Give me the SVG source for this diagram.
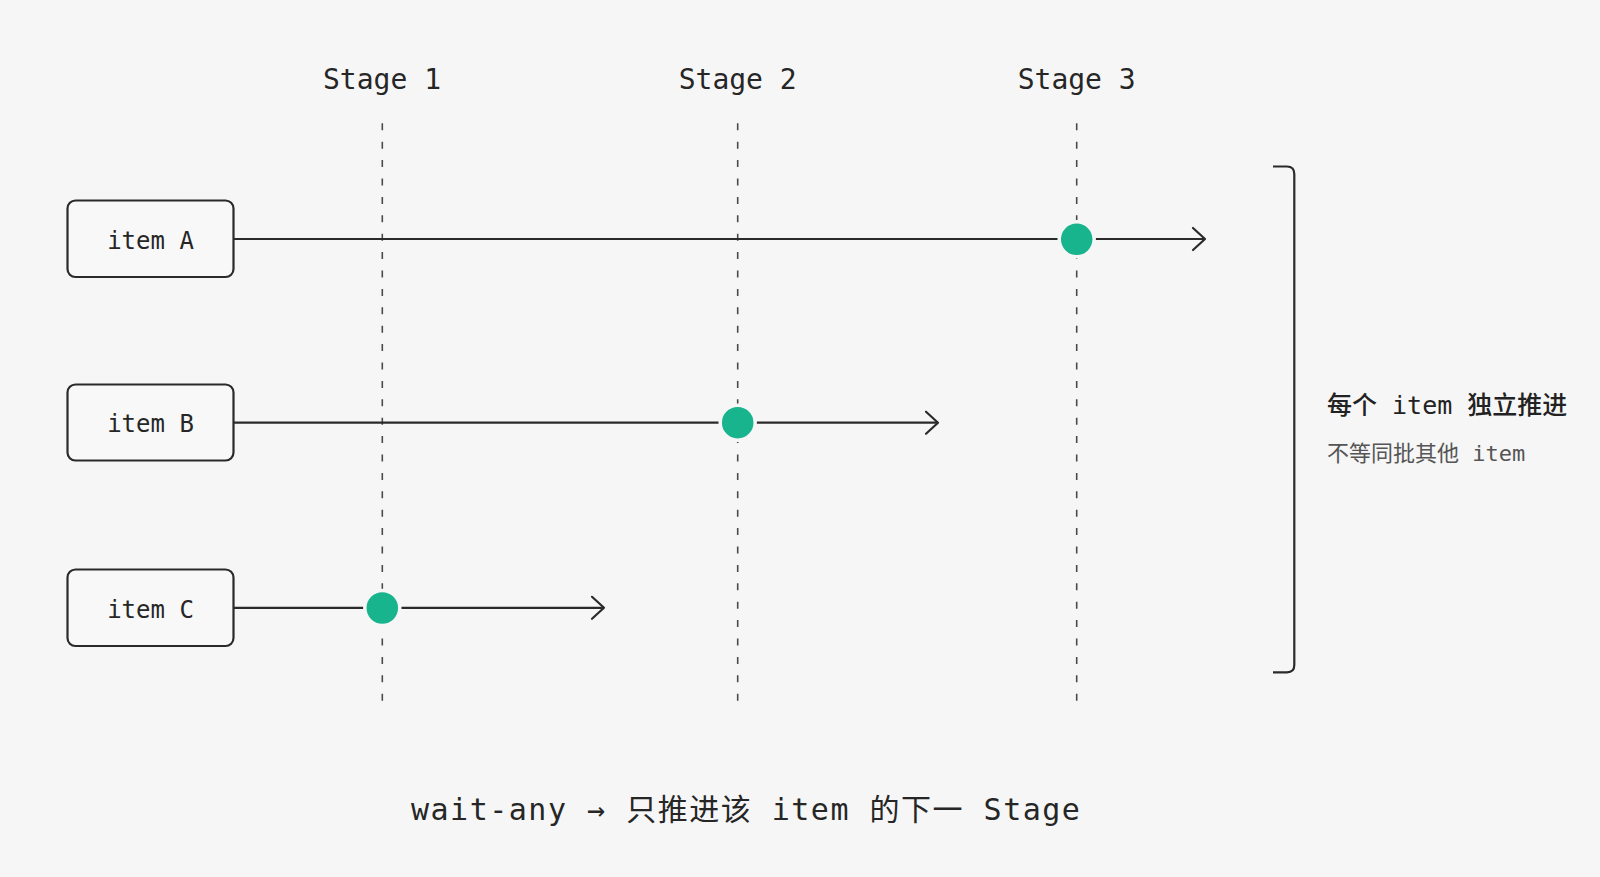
<svg xmlns="http://www.w3.org/2000/svg" width="1600" height="877" viewBox="0 0 1600 877">
<defs>
<style>
.mono{font-family:"DejaVu Sans Mono","Liberation Mono","Noto Sans CJK SC",monospace;fill:#262626}
.stage{font-size:28px;text-anchor:middle}
.item{font-size:24px;text-anchor:middle}
.box{fill:#f8f8f8;stroke:#2a2a2a;stroke-width:2.2}
.flow{fill:none;stroke:#2a2a2a;stroke-width:2.2}
.guide{stroke:#4a4a4a;stroke-width:1.6;stroke-dasharray:7 11.4}
.dot{fill:#18b48d;stroke:#f6f6f6;stroke-width:3.5}
.note{font-family:"DejaVu Sans Mono","Noto Sans CJK SC",monospace}
</style>
<marker id="arr" viewBox="0 0 16 26" refX="14" refY="13" markerWidth="16" markerHeight="26" markerUnits="userSpaceOnUse" orient="auto">
<path d="M2,2 L14,13 L2,24" fill="none" stroke="#2a2a2a" stroke-width="2.2" stroke-linecap="round" stroke-linejoin="round"/>
</marker>
</defs>
<rect width="1600" height="877" fill="#f6f6f6"/>

<g id="stages">
<text class="mono stage" x="382" y="89">Stage 1</text>
<text class="mono stage" x="737.7" y="89">Stage 2</text>
<text class="mono stage" x="1076.7" y="89">Stage 3</text>
<line class="guide" x1="382.3" y1="123.3" x2="382.3" y2="702"/>
<line class="guide" x1="737.7" y1="123.3" x2="737.7" y2="702"/>
<line class="guide" x1="1076.7" y1="123.3" x2="1076.7" y2="702"/>
</g>

<g id="connectors">
<line class="flow" x1="234" y1="239" x2="1205" y2="239" marker-end="url(#arr)"/>
<line class="flow" x1="234" y1="422.7" x2="938" y2="422.7" marker-end="url(#arr)"/>
<line class="flow" x1="234" y1="607.8" x2="604" y2="607.8" marker-end="url(#arr)"/>
</g>

<g id="itemA">
<rect class="box" x="67.5" y="200.5" width="166" height="76.5" rx="8"/>
<text class="mono item" x="150.5" y="248.5">item A</text>
</g>
<g id="itemB">
<rect class="box" x="67.5" y="384.5" width="166" height="76" rx="8"/>
<text class="mono item" x="150.5" y="432.3">item B</text>
</g>
<g id="itemC">
<rect class="box" x="67.5" y="569.5" width="166" height="76.5" rx="8"/>
<text class="mono item" x="150.5" y="617.5">item C</text>
</g>

<g id="dots">
<circle class="dot" cx="1076.7" cy="239.3" r="17.5"/>
<circle class="dot" cx="737.7" cy="422.7" r="17.5"/>
<circle class="dot" cx="382.3" cy="608" r="17.5"/>
</g>

<g id="bracket">
<path class="flow" d="M1273,166.5 H1287 Q1294.3,166.5 1294.3,174 V665 Q1294.3,672.3 1287,672.3 H1273"/>
</g>

<g id="note">
<text class="note" x="1327" y="414" font-size="25" font-weight="500" fill="#222">每个 item 独立推进</text>
<text class="note" x="1327" y="461" font-size="22" fill="#555">不等同批其他 item</text>
</g>

<g id="caption">
<text class="mono" x="411" y="820" font-size="30" letter-spacing="1.5">wait-any → 只推进该 item 的下一 Stage</text>
</g>
</svg>
